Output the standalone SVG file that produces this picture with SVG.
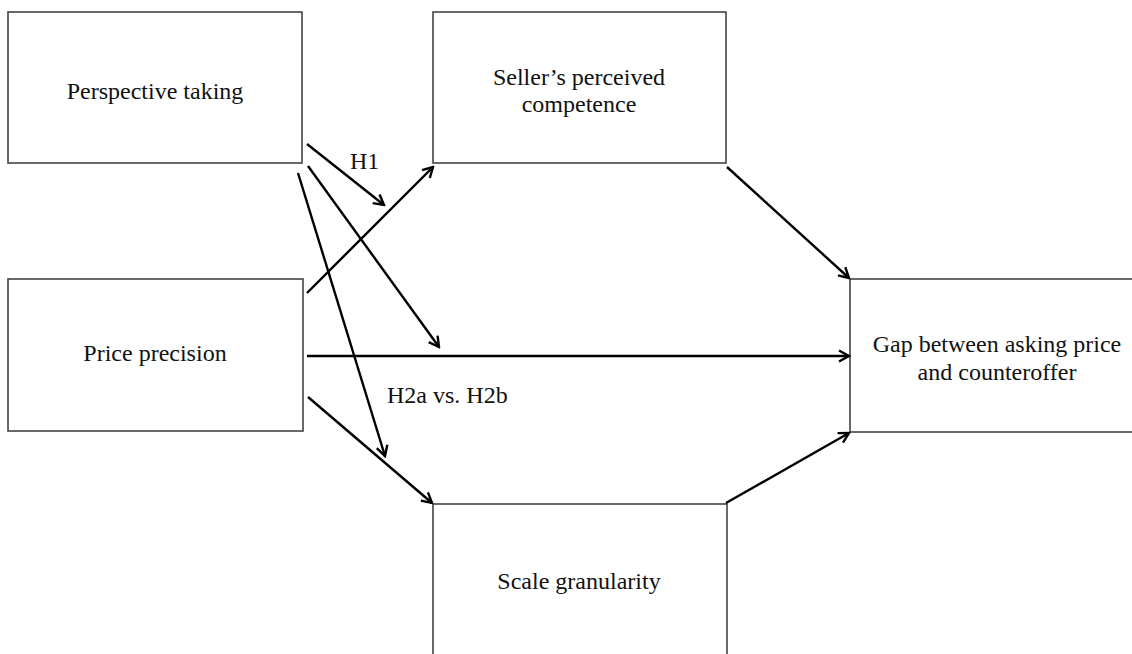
<svg xmlns="http://www.w3.org/2000/svg" width="1132" height="654" viewBox="0 0 1132 654">
<style>
.box{fill:#fff;stroke:#444;stroke-width:1.6}
.lbl{font-family:"Liberation Serif","Times New Roman",serif;font-size:24px;fill:#111;text-anchor:middle}
.hyp{font-family:"Liberation Serif","Times New Roman",serif;font-size:24px;fill:#111}
.arr{stroke:#000;stroke-width:2.4;fill:none;marker-end:url(#ah)}
</style>
<defs>
<marker id="ah" viewBox="0 0 14 14" refX="12" refY="7" markerWidth="14" markerHeight="14" markerUnits="userSpaceOnUse" orient="auto">
<path d="M2,1.5 L12,7 L2,12.5" fill="none" stroke="#000" stroke-width="2.4" stroke-linejoin="miter"/>
</marker>
</defs>
<rect width="1132" height="654" fill="#fff"/>
<g id="perspective-taking">
<rect class="box" x="8" y="12" width="294" height="151"/>
<text class="lbl" x="155" y="99">Perspective taking</text>
</g>
<g id="sellers-competence">
<rect class="box" x="433" y="12" width="293" height="151"/>
<text class="lbl" x="579" y="85">Seller’s perceived</text>
<text class="lbl" x="579" y="112">competence</text>
</g>
<g id="price-precision">
<rect class="box" x="8" y="279" width="295" height="152"/>
<text class="lbl" x="155" y="361">Price precision</text>
</g>
<g id="gap">
<rect class="box" x="850" y="279" width="300" height="153"/>
<text class="lbl" x="997" y="352">Gap between asking price</text>
<text class="lbl" x="997" y="380">and counteroffer</text>
</g>
<g id="scale-granularity">
<rect class="box" x="433" y="504" width="294" height="200"/>
<text class="lbl" x="579" y="589">Scale granularity</text>
</g>
<g id="connectors">
<line class="arr" x1="307" y1="144" x2="384" y2="205"/>
<line class="arr" x1="308" y1="166" x2="439" y2="347"/>
<line class="arr" x1="298" y1="173" x2="385" y2="456"/>
<line class="arr" x1="307" y1="293" x2="433" y2="167"/>
<line class="arr" x1="307" y1="356" x2="849" y2="356"/>
<line class="arr" x1="308" y1="397" x2="432" y2="503"/>
<line class="arr" x1="727" y1="167" x2="849" y2="278"/>
<line class="arr" x1="726" y1="503" x2="849" y2="433"/>
<text class="hyp" x="350" y="169">H1</text>
<text class="hyp" x="387" y="403">H2a vs. H2b</text>
</g>
</svg>
